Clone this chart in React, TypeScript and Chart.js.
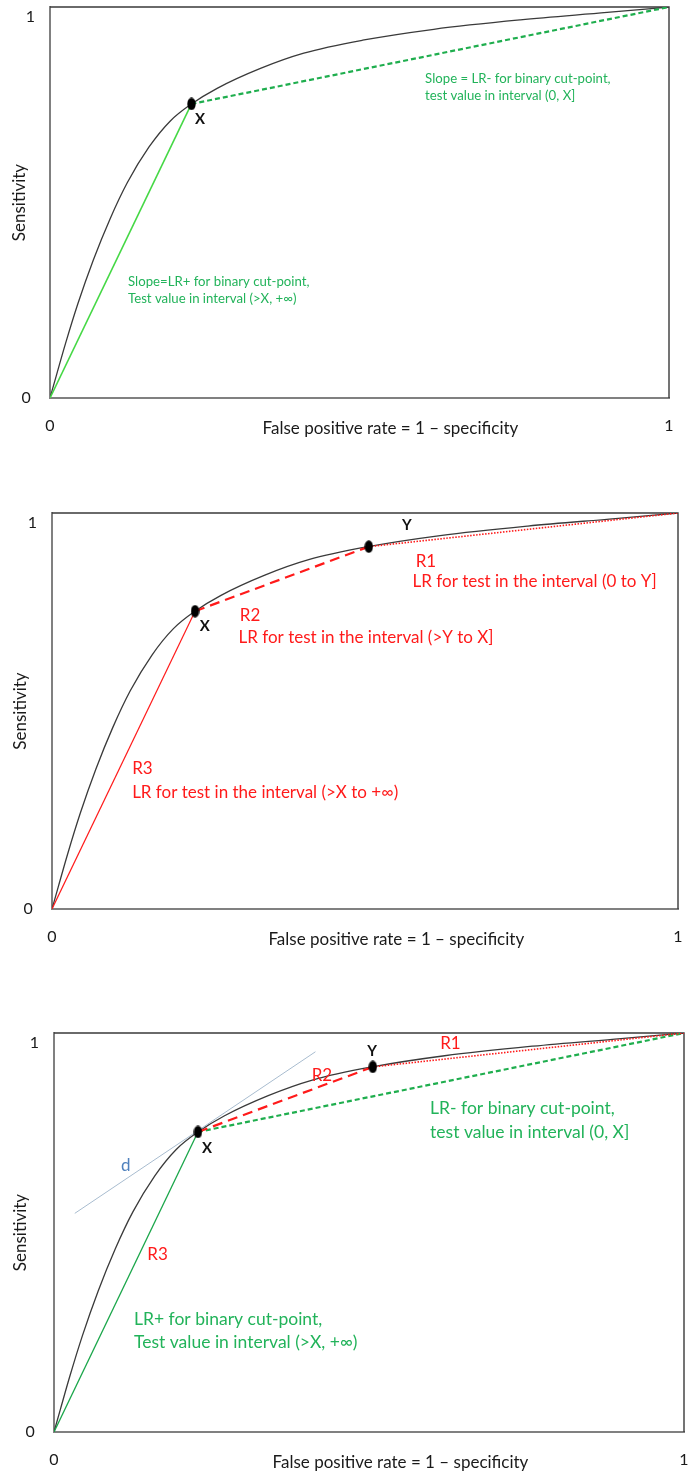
import React, { useEffect, useRef } from 'react';
import { Chart, registerables } from 'chart.js';
Chart.register(...registerables);

// ROC curve (false positive rate, sensitivity)
const rocFpr = [0, 0.01, 0.025, 0.045, 0.07, 0.097, 0.125, 0.16, 0.194, 0.2285, 0.27, 0.34, 0.41, 0.505, 0.62, 0.76, 0.9, 1];
const rocTpr = [0, 0.056, 0.139, 0.241, 0.353, 0.458, 0.551, 0.642, 0.708, 0.752, 0.792, 0.843, 0.882, 0.915, 0.943, 0.967, 0.986, 1];
const axisTicks = [0, 1];
const xTickLabels = ['0', '1'];
const yTickLabels = ['0 ', '1'];
const origin = [0, 0];
const corner = [1, 1];
const cutPointX = [0.2285, 0.752];
const cutPointY = [0.506, 0.915];
const tangentD = [[0.033, 0.548], [0.415, 0.953]];
const xTitle = 'False positive rate = 1 \u2013 specificity';
const yTitle = 'Sensitivity';
const xTitleAt = 0.55;

const p1Texts = ['Slope = LR- for binary cut-point,', 'test value in interval (0, X]', 'Slope=LR+ for binary cut-point,', 'Test value in interval (>X, +\u221E)', 'X'];
const p1At = [[0.606, 0.816], [0.606, 0.772], [0.126, 0.297], [0.126, 0.254], [0.2423, 0.712]];

const p2Texts = ['Y', 'R1', 'LR for test in the interval (0 to Y]', 'R2', 'LR for test in the interval (>Y to X]', 'X', 'R3', 'LR for test in the interval (>X to +\u221E)'];
const p2At = [[0.567, 0.97], [0.581, 0.877], [0.576, 0.828], [0.300, 0.742], [0.298, 0.685], [0.244, 0.713], [0.128, 0.356], [0.128, 0.293]];

const p3Texts = ['Y', 'R1', 'R2', 'X', 'd', 'R3', 'LR- for binary cut-point,', 'test value in interval (0, X]', 'LR+ for binary cut-point,', 'Test value in interval (>X, +\u221E)'];
const p3At = [[0.505, 0.955], [0.613, 0.973], [0.409, 0.893], [0.243, 0.711], [0.114, 0.668], [0.148, 0.444], [0.597, 0.81], [0.597, 0.751], [0.127, 0.282], [0.127, 0.225]];

const FONT = 'Lato, "Open Sans", sans-serif';
const RED = '#ff1a1a';
const TXT_GREEN = '#22b35a';

type Note = { i: number; color: string; size: number; bold?: boolean; align?: CanvasTextAlign };

const pt = (p: number[]) => ({ x: p[0], y: p[1] });
const seg = (a: number[], b: number[]) => [pt(a), pt(b)];

function makeEllipse(w: number, h: number) {
  const c = document.createElement('canvas');
  c.width = w; c.height = h;
  const g = c.getContext('2d')!;
  g.fillStyle = '#000';
  g.beginPath();
  g.ellipse(w / 2, h / 2, w / 2 - 0.3, h / 2 - 0.3, 0, 0, Math.PI * 2);
  g.fill();
  return c;
}

function curveSet() {
  return {
    data: rocFpr.map((x, i) => ({ x, y: rocTpr[i] })),
    showLine: true, borderColor: '#3a3a3a', borderWidth: 1.3, pointRadius: 0,
    cubicInterpolationMode: 'monotone' as const,
  };
}
function lineSet(data: any[], color: string, width: number, dash: number[] = []) {
  return { data, showLine: true, borderColor: color, borderWidth: width, borderDash: dash, pointRadius: 0 };
}
function pointSet(points: number[][], dot: HTMLCanvasElement) {
  return { data: points.map(pt), showLine: false, pointStyle: dot as any, pointRadius: 6 };
}

type PanelCfg = {
  top: number; height: number; area: number[]; titleX: number;
  texts: string[]; at: number[][]; notes: Note[];
  datasets: (dot: HTMLCanvasElement) => any[];
};

const BIG = 17;

const panels: PanelCfg[] = [
  {
    top: 0, height: 450, area: [50, 7, 669, 398], titleX: 19,
    texts: p1Texts, at: p1At,
    notes: [
      { i: 0, color: TXT_GREEN, size: 13.2 }, { i: 1, color: TXT_GREEN, size: 13.2 },
      { i: 2, color: TXT_GREEN, size: 13.2 }, { i: 3, color: TXT_GREEN, size: 13.2 },
      { i: 4, color: '#111', size: 15, bold: true, align: 'center' },
    ],
    datasets: (dot) => [
      pointSet([cutPointX], dot),
      lineSet(seg(origin, cutPointX), '#45d845', 1.6),
      lineSet(seg(cutPointX, corner), '#1fae4e', 2.2, [5, 3]),
      curveSet(),
    ],
  },
  {
    top: 490, height: 470, area: [52, 23, 678, 419], titleX: 20,
    texts: p2Texts, at: p2At,
    notes: [
      { i: 0, color: '#111', size: 15, bold: true, align: 'center' },
      { i: 1, color: RED, size: BIG }, { i: 2, color: RED, size: BIG },
      { i: 3, color: RED, size: BIG }, { i: 4, color: RED, size: BIG },
      { i: 5, color: '#111', size: 15, bold: true, align: 'center' },
      { i: 6, color: RED, size: BIG }, { i: 7, color: RED, size: BIG },
    ],
    datasets: (dot) => [
      pointSet([cutPointX, cutPointY], dot),
      lineSet(seg(origin, cutPointX), RED, 1.2),
      lineSet(seg(cutPointX, cutPointY), RED, 2.2, [10, 6]),
      lineSet(seg(cutPointY, corner), RED, 1.6, [1.5, 1.5]),
      curveSet(),
    ],
  },
  {
    top: 990, height: 487, area: [54, 43, 686, 442], titleX: 20,
    texts: p3Texts, at: p3At,
    notes: [
      { i: 0, color: '#111', size: 15, bold: true, align: 'center' },
      { i: 1, color: RED, size: BIG }, { i: 2, color: RED, size: BIG },
      { i: 3, color: '#111', size: 15, bold: true, align: 'center' },
      { i: 4, color: '#4f81bd', size: BIG, align: 'center' },
      { i: 5, color: RED, size: BIG },
      { i: 6, color: TXT_GREEN, size: 17.5 }, { i: 7, color: TXT_GREEN, size: 17.5 },
      { i: 8, color: TXT_GREEN, size: 17.5 }, { i: 9, color: TXT_GREEN, size: 17.5 },
    ],
    datasets: (dot) => [
      pointSet([cutPointX, cutPointY], dot),
      lineSet(seg(cutPointX, cutPointY), RED, 2.2, [10, 6]),
      lineSet(seg(cutPointY, corner), RED, 1.6, [1.5, 1.5]),
      lineSet(seg(origin, cutPointX), '#1aa64a', 1.3),
      lineSet(seg(cutPointX, corner), '#1fae4e', 2.2, [5, 3]),
      lineSet(seg(tangentD[0], tangentD[1]), '#a8bccf', 1),
      curveSet(),
    ],
  },
];

function Panel({ cfg }: { cfg: PanelCfg }) {
  const ref = useRef<HTMLCanvasElement>(null);
  useEffect(() => {
    const [L, T, R, B] = cfg.area;
    const W = 691, H = cfg.height;
    const dot = makeEllipse(9, 13);
    const frame = {
      id: 'frame',
      beforeDatasetsDraw(chart: any) {
        const { ctx, chartArea: { left, top, right, bottom } } = chart;
        ctx.save();
        ctx.strokeStyle = '#808080'; ctx.lineWidth = 2;
        ctx.beginPath(); ctx.moveTo(left, top - 1); ctx.lineTo(left, bottom); ctx.lineTo(right + 1, bottom); ctx.stroke();
        ctx.strokeStyle = '#3a3a3a'; ctx.lineWidth = 1.4;
        ctx.beginPath(); ctx.moveTo(left, top); ctx.lineTo(right, top); ctx.lineTo(right, bottom); ctx.stroke();
        ctx.restore();
      },
      afterDatasetsDraw(chart: any) {
        const { ctx } = chart;
        const xs = chart.scales.x, ys = chart.scales.y;
        ctx.save();
        ctx.textBaseline = 'middle';
        cfg.notes.forEach((n) => {
          const p = cfg.at[n.i];
          ctx.fillStyle = n.color;
          ctx.textAlign = n.align || 'left';
          ctx.font = `${n.bold ? 'bold ' : ''}${n.size}px ${FONT}`;
          ctx.fillText(cfg.texts[n.i], xs.getPixelForValue(p[0]), ys.getPixelForValue(p[1]));
        });
        ctx.fillStyle = '#1a1a1a';
        ctx.textAlign = 'center';
        ctx.font = `17px ${FONT}`;
        ctx.fillText(xTitle, xs.getPixelForValue(xTitleAt), chart.chartArea.bottom + 31);
        ctx.restore();
      },
    };
    const chart = new Chart(ref.current!, {
      type: 'scatter',
      data: { datasets: cfg.datasets(dot) },
      options: {
        animation: false, responsive: false, events: [],
        layout: { padding: { left: 0, top: T, right: W - R, bottom: 0 } },
        plugins: { legend: { display: false }, tooltip: { enabled: false } },
        scales: {
          x: {
            type: 'linear', min: 0, max: 1,
            afterBuildTicks: (s: any) => { s.ticks = axisTicks.map((v) => ({ value: v })); },
            ticks: {
              autoSkip: false, maxRotation: 0, padding: 18, color: '#1a1a1a',
              font: { family: FONT, size: 16 },
              callback: (v: any) => xTickLabels[axisTicks.indexOf(Number(v))],
            },
            grid: { display: false, drawTicks: false },
            border: { display: false },
            afterFit: (s: any) => { s.height = H - B; s.paddingLeft = 0; s.paddingRight = 0; },
          },
          y: {
            type: 'linear', min: 0, max: 1,
            afterBuildTicks: (s: any) => { s.ticks = axisTicks.map((v) => ({ value: v })); },
            ticks: {
              autoSkip: false, padding: 15, color: '#1a1a1a',
              font: { family: FONT, size: 16 },
              callback: (v: any) => (Number(v) === 1 ? ['', yTickLabels[1]] : yTickLabels[0]),
            },
            grid: { display: false, drawTicks: false },
            border: { display: false },
            title: {
              display: true, text: yTitle, color: '#1a1a1a',
              font: { family: FONT, size: 17 }, padding: { top: cfg.titleX - 10, bottom: 0 },
            },
            afterFit: (s: any) => { s.width = L; s.paddingTop = 0; s.paddingBottom = 0; },
          },
        },
      },
      plugins: [frame],
    } as any);
    return () => chart.destroy();
  }, []);
  return (
    <canvas
      ref={ref}
      width={691}
      height={cfg.height}
      style={{ position: 'absolute', left: 0, top: cfg.top, width: 691, height: cfg.height }}
    />
  );
}

export default function App() {
  return (
    <div style={{ position: 'absolute', left: 0, top: 0, width: 691, height: 1477, background: '#fff' }}>
      {panels.map((p, k) => (
        <Panel key={k} cfg={p} />
      ))}
    </div>
  );
}
